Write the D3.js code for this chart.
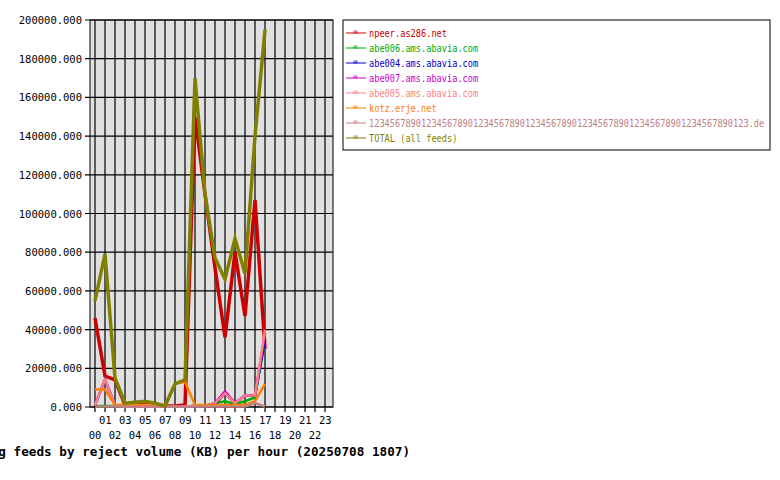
<!DOCTYPE html>
<html><head><meta charset="utf-8">
<script src="https://cdn.jsdelivr.net/npm/d3@7"></script>
<style>body{margin:0;background:#fff}text{font-family:"DejaVu Sans Mono",monospace}</style>
</head><body><svg id="c" width="780" height="480"></svg>
<script>
const hours = d3.range(0, 24);
const yTicks = [0, 20000, 40000, 60000, 80000, 100000, 120000, 140000, 160000, 180000, 200000];
const names = ["npeer.as286.net", "abe006.ams.abavia.com", "abe004.ams.abavia.com", "abe007.ams.abavia.com",
  "abe005.ams.abavia.com", "kotz.erje.net", "1234567890123456789012345678901234567890123456789012345678901234567890123.de", "TOTAL (all feeds)"];
const colors = ["#cc0000", "#00aa00", "#0000cc", "#cc00cc", "#ff8080", "#ff8000", "#c08080", "#808000"];
const npeer  = [46000,16000,14000,1000,1000,1500,1000,500,500,1000,150000,110000,72000,36000,80000,47000,107000,30000];
const abe006 = [500,500,500,300,300,300,300,300,300,300,500,500,2000,3000,1500,3000,5000,35000];
const abe004 = [1000,14000,1000,300,300,300,300,300,300,300,500,500,1500,7000,2000,6000,6000,35000];
const abe007 = [1000,14000,1000,300,300,300,300,300,300,300,500,500,2000,8000,2000,6000,6000,38000];
const abe005 = [1000,14000,1000,300,300,300,300,300,300,300,500,500,2000,7000,2000,6000,6000,40000];
const kotz   = [9000,9000,1000,1000,1000,1000,1000,1000,12000,13000,1000,1000,1000,1000,1000,1000,3000,12000];
const de     = [200,200,200,200,200,200,200,200,200,200,200,200,200,200,200,200,2000,200];
const total  = [55000,79000,15000,2000,2500,3000,2000,500,12000,14000,170000,110000,77000,66000,87000,69000,140000,195000];
const series = [npeer, abe006, abe004, abe007, abe005, kotz, de, total];

const svg = d3.select("#c");
const x = d3.scaleLinear().domain([-0.5, 23.8]).range([90, 333]);
const y = d3.scaleLinear().domain([0, 200000]).range([407, 20]);

svg.append("rect").attr("x", 90).attr("y", 20).attr("width", 243).attr("height", 387)
  .attr("fill", "#e0e0e0").attr("stroke", "#000");

svg.selectAll("line.v").data(hours).enter().append("line")
  .attr("x1", d => x(d)).attr("x2", d => x(d)).attr("y1", 20).attr("y2", 412)
  .attr("stroke", "#000").attr("stroke-width", 1.2);
svg.selectAll("line.h").data(yTicks).enter().append("line")
  .attr("x1", 85).attr("x2", 333).attr("y1", d => y(d)).attr("y2", d => y(d))
  .attr("stroke", "#000").attr("stroke-width", 1.2);

svg.selectAll("text.y").data(yTicks).enter().append("text")
  .attr("x", 82).attr("y", d => y(d) + 4).attr("text-anchor", "end").attr("font-size", 10.5)
  .text(d => d3.format(".3f")(d));
svg.selectAll("text.x").data(hours).enter().append("text")
  .attr("x", d => x(d)).attr("y", d => d % 2 ? 424 : 439).attr("text-anchor", d => d % 2 ? "start" : "middle")
  .attr("dx", d => d % 2 ? -6 : 0).attr("font-size", 10.5)
  .text(d => d3.format("02d")(d));

const line = d3.line().x((d, i) => x(i)).y(d => y(d));
series.forEach((s, i) => {
  svg.append("path").attr("d", line(s)).attr("fill", "none")
    .attr("stroke", colors[i]).attr("stroke-width", i === 7 || i === 0 ? 3.5 : 2.5);
});

const lg = svg.append("g");
lg.append("rect").attr("x", 343).attr("y", 20).attr("width", 427).attr("height", 130)
  .attr("fill", "#fff").attr("stroke", "#000");
names.forEach((n, i) => {
  const yy = 33 + i * 15;
  lg.append("line").attr("x1", 346).attr("x2", 366).attr("y1", yy).attr("y2", yy).attr("stroke", colors[i]);
  lg.append("rect").attr("x", 354).attr("y", yy - 2).attr("width", 3).attr("height", 2).attr("fill", "none").attr("stroke", colors[i]).attr("stroke-width", 0.7);
  lg.append("text").attr("x", 369).attr("y", yy + 4).attr("font-size", 10.5)
    .attr("textLength", n.length * 5.2).attr("lengthAdjust", "spacingAndGlyphs")
    .attr("fill", colors[i]).text(n);
});

svg.append("text").attr("x", 410).attr("y", 456).attr("text-anchor", "end")
  .attr("font-size", 12).attr("font-weight", "bold")
  .attr("textLength", 465).attr("lengthAdjust", "spacingAndGlyphs")
  .text("Incoming feeds by reject volume (KB) per hour (20250708 1807)");
</script></body></html>
